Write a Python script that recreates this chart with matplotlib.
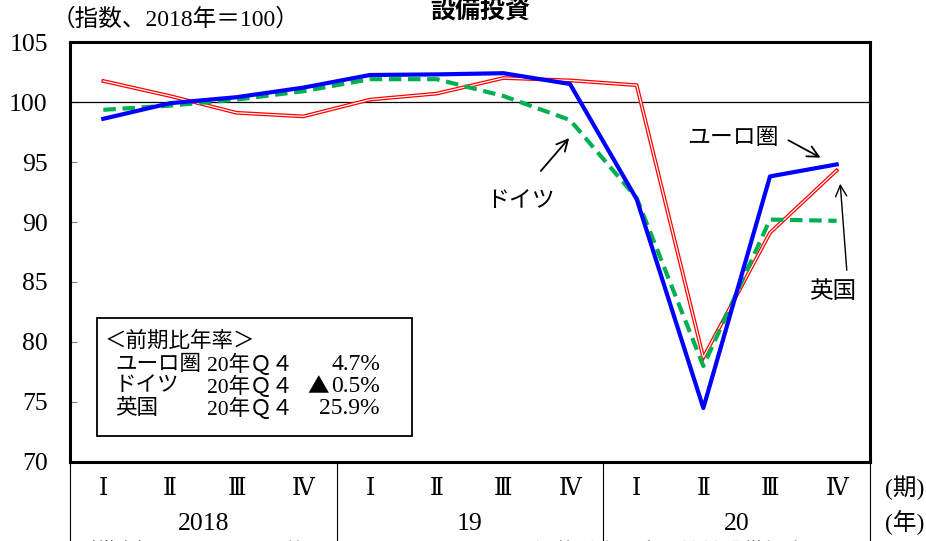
import matplotlib
matplotlib.use("Agg")
import matplotlib.pyplot as plt
from matplotlib.patches import Rectangle

plt.rcParams['font.family'] = ['Liberation Serif', 'Noto Sans CJK JP', 'DejaVu Sans']

quarters = ["Ⅰ", "Ⅱ", "Ⅲ", "Ⅳ"] * 3
years = ["2018", "19", "20"]
euro = [98.6, 99.9, 100.4, 101.2, 102.25, 102.3, 102.4, 101.5, 91.9, 74.5, 93.8, 94.8]
germany = [99.35, 99.7, 100.2, 100.9, 101.9, 101.9, 100.5, 98.5, 92.0, 78.0, 90.2, 90.1]
uk = [101.75, 100.5, 99.1, 98.8, 100.2, 100.7, 102.0, 101.8, 101.4, 78.7, 89.1, 94.3]
yticks = [70, 75, 80, 85, 90, 95, 100, 105]
box_rows = [("ユーロ圏", "20年Ｑ４", "4.7%"),
            ("ドイツ", "20年Ｑ４", "▲0.5%"),
            ("英国", "20年Ｑ４", "25.9%")]

W, H = 926, 541
fig = plt.figure(figsize=(W / 100, H / 100), dpi=100)
ax = fig.add_axes([70 / W, 1 - 462 / H, 800 / W, 420 / H])
x = list(range(len(euro)))

ax.plot(x, uk, color='red', lw=2.7, solid_joinstyle='miter', zorder=3)
ax.plot(x, uk, color='white', lw=0.9, solid_joinstyle='miter', zorder=3.1)
ax.plot(x, germany, color='#00b050', lw=3, dashes=(3, 1.6), zorder=4)
ax.plot(x, euro, color='#0000ff', lw=3, zorder=5)
ax.axhline(100, color='black', lw=0.9, zorder=2)

ax.set_xlim(-0.5, 11.5)
ax.set_ylim(70, 105)
ax.set_yticks(yticks)
ax.set_yticklabels([str(v) for v in yticks], fontsize=18.5)
ax.tick_params(axis='y', direction='in', length=5, width=0.8, color='gray', pad=16)
ax.set_xticks([])
for s in ax.spines.values():
    s.set_linewidth(2.2)

# category band
for i, q in enumerate(quarters):
    ax.text(i, -0.062, q, transform=ax.get_xaxis_transform(), ha='center', va='center',
            fontsize=17, family=['DejaVu Serif', 'Noto Sans CJK JP'])
for j, yv in enumerate(years):
    ax.text(4 * j + 1.5, -0.148, yv, transform=ax.get_xaxis_transform(), ha='center',
            va='center', fontsize=18.5)
for xv in [-0.5, 3.5, 7.5, 11.5]:
    ax.plot([xv, xv], [0, -0.22], transform=ax.get_xaxis_transform(), color='black',
            lw=0.8, clip_on=False)
ax.text((905 - 70) / 800, -0.062, "(期)", transform=ax.transAxes, ha='center', va='center',
        fontsize=17)
ax.text((905 - 70) / 800, -0.145, "(年)", transform=ax.transAxes, ha='center', va='center',
        fontsize=17)

# annotations
ax.annotate("", xy=(7.015, 97.17), xytext=(6.535, 94.08),
            arrowprops=dict(arrowstyle='->', color='black', lw=1.3, mutation_scale=20))
ax.text(6.25, 91.67, "ドイツ", ha='center', va='center', fontsize=16.5)
ax.annotate("", xy=(10.795, 95.25), xytext=(10.24, 96.92),
            arrowprops=dict(arrowstyle='->', color='black', lw=1.3, mutation_scale=20))
ax.text(9.445, 96.92, "ユーロ圏", ha='center', va='center', fontsize=16.5)
ax.annotate("", xy=(11.05, 93.42), xytext=(11.155, 85.75),
            arrowprops=dict(arrowstyle='->', color='black', lw=1.0, mutation_scale=20))
ax.text(10.945, 84.17, "英国", ha='center', va='center', fontsize=17)

# info box
ax.add_patch(Rectangle((27 / 800, 26 / 420), 315 / 800, 118 / 420, transform=ax.transAxes,
                       fill=False, edgecolor='black', lw=1.3, zorder=6))
bfs = 15.5
ax.text((105 - 70) / 800, (462 - 342) / 420, "＜前期比年率＞", transform=ax.transAxes,
        ha='left', va='center', fontsize=bfs)
row_y = [365, 387, 409]
for k, (nm, q, v) in enumerate(box_rows):
    yy = (462 - row_y[k]) / 420
    ax.text((115 - 70) / 800, yy, nm, transform=ax.transAxes, ha='left', va='center', fontsize=bfs)
    ax.text((207 - 70) / 800, yy, q, transform=ax.transAxes, ha='left', va='center', fontsize=bfs)
    if v.startswith("▲"):
        ax.text((307 - 70) / 800, yy, v[0], transform=ax.transAxes, ha='left', va='center',
                fontsize=bfs, family=['Noto Sans CJK JP'])
        v = v[1:]
    ax.text((380 - 70) / 800, yy, v, transform=ax.transAxes, ha='right', va='center',
            fontsize=bfs + 1.5)

# titles
fig.text(480 / W, 1 - 12 / H, "設備投資", ha='center', va='center', fontsize=18,
         fontweight='bold', family=['Noto Sans CJK JP'])
fig.text(52 / W, 1 - 20 / H, "（指数、2018年＝100）", ha='left', va='center', fontsize=17)
fig.text(75 / W, 1 - 553 / H, "（備考）　　　　　　英国、ドイツ、ユーロ圏は知的財産を含む機械設備投資",
         ha='left', va='center', fontsize=15)

fig.savefig("out.png", dpi=100)
